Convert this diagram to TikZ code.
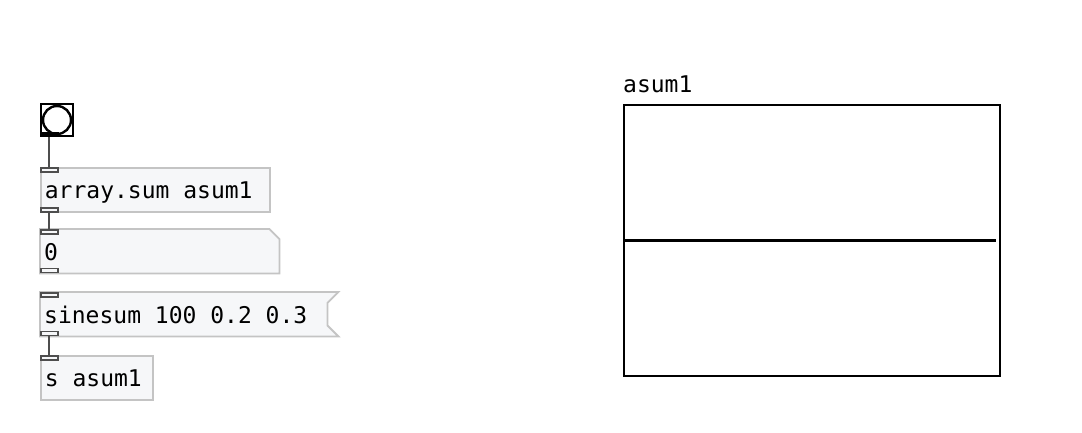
\documentclass[tikz,border=0pt]{standalone}
\usepackage{fontspec}
\newfontfamily\pdfont{DejaVu Sans Mono}
\usetikzlibrary{positioning}
\definecolor{boxfill}{HTML}{F6F7F9}
\definecolor{boxline}{HTML}{C4C4C4}
\definecolor{iolet}{HTML}{4E4E4E}
\tikzset{pdtext/.style = {font=\pdfont\fontsize{23}{27}\selectfont}}
\tikzset{
pdbare/.style = {pdtext, anchor=north west, inner xsep=4pt, inner ysep=0pt,
                 text width=#1, align=left, text height=31pt, text depth=13pt,
                 execute at begin node={\spaceskip=0pt\relax\xspaceskip=0pt\relax}},
pdobj/.style = {pdbare=#1, draw=boxline, fill=boxfill, line width=1.8pt},
inlet/.style = {draw=iolet, fill=boxfill, line width=1.6pt, minimum width=17pt,
                minimum height=4pt, inner sep=0pt, anchor=north west},
outlet/.style = {inlet, anchor=south west},
patchcord/.style = {draw=iolet, line width=2.2pt},
}

\begin{document}
\begin{tikzpicture}[x=1pt, y=-1pt]
		\useasboundingbox (0,0) rectangle (1082,432);
		\node [draw, line width=2pt, fill=white, minimum size=32pt, inner sep=0pt, anchor=north west] (bang) at (40,103) {};
		\node [circle, draw, line width=2.4pt, minimum size=28pt, inner sep=0pt] (bangc) at (bang.center) {};
		\node [outlet, draw=black, fill=black, minimum height=3pt] (bangout) at (bang.south west) {};
		\node [pdobj=221pt] (sum) at (40,167) {array.sum asum1};
		\node [inlet] (sumin) at (sum.north west) {};
		\node [outlet] (sumout) at (sum.south west) {};
		\node [pdbare=231pt] (num) at (40,229) {0};
		\draw [draw=boxline, fill=boxfill, line width=1.8pt] (num.north west) -- ([xshift=-10pt]num.north east) -- ([yshift=-10pt]num.north east) -- (num.south east) -- (num.south west) -- cycle;
		\node [pdbare=231pt] at (40,229) {0};
		\node [inlet] (numin) at (num.north west) {};
		\node [outlet] (numout) at (num.south west) {};
		\node [pdbare=279pt] (msg) at (40,292) {sinesum 100 0.2 0.3};
		\draw [draw=boxline, fill=boxfill, line width=1.8pt] (msg.north west) -- ([xshift=11pt]msg.north east) -- ([yshift=-11pt]msg.north east) -- ([yshift=11pt]msg.south east) -- ([xshift=11pt]msg.south east) -- (msg.south west) -- cycle;
		\node [pdbare=279pt] at (40,292) {sinesum 100 0.2 0.3};
		\node [inlet] (msgin) at (msg.north west) {};
		\node [outlet] (msgout) at (msg.south west) {};
		\node [pdobj=104pt] (send) at (40,355) {s asum1};
		\node [inlet] (sendin) at (send.north west) {};
		\draw [patchcord] (bangout.south) to (sumin.north);
		\draw [patchcord] (sumout.south) to (numin.north);
		\draw [patchcord] (msgout.south) to (sendin.north);
		\node [pdtext, anchor=base west, inner sep=0pt] (label) at (623,92) {asum1};
		\node [draw, line width=1.8pt, minimum width=376pt, minimum height=271pt, inner sep=0pt, anchor=north west] (graph) at (623,104) {};
		\coordinate (lineend) at ([xshift=-5pt]graph.east);
		\draw [line width=2.2pt] (graph.west) to (lineend);
	\end{tikzpicture}
\end{document}
